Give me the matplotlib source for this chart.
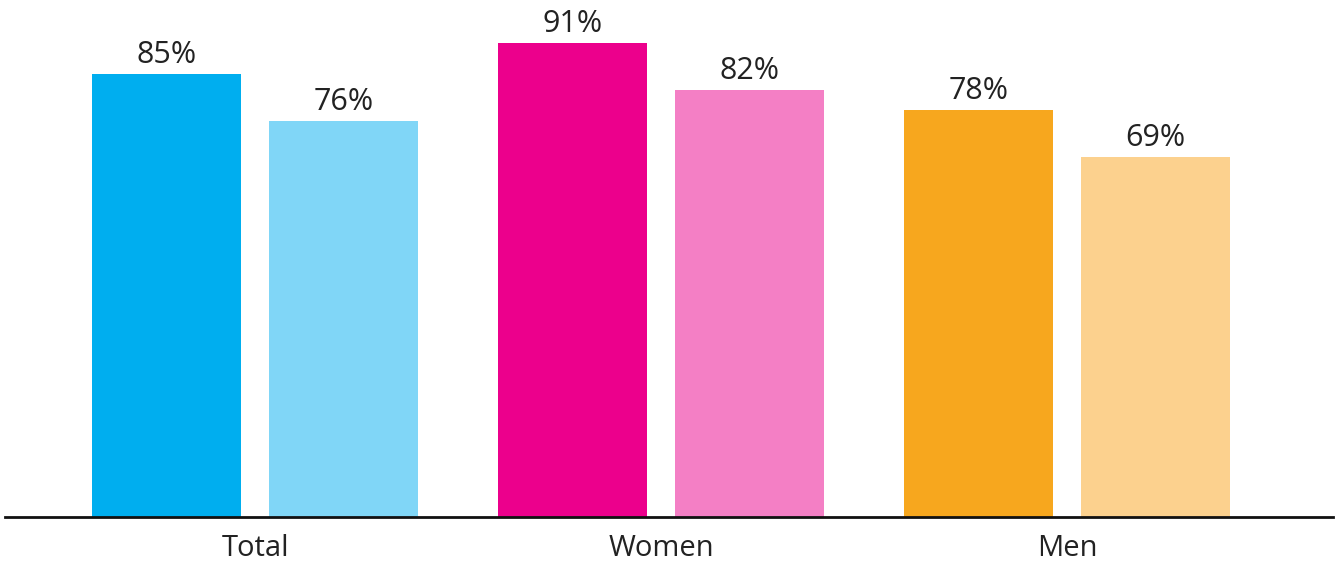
import numpy as np
import matplotlib
matplotlib.use("Agg")
import matplotlib.pyplot as plt

plt.rcParams['font.family'] = ['Open Sans', 'DejaVu Sans']

# data
groups = ["Total", "Women", "Men"]
first_vals = [85, 91, 78]
second_vals = [76, 82, 69]
first_colors = ["#00AEEF", "#EC008C", "#F7A71E"]
second_colors = ["#80D6F7", "#F47FC5", "#FCD18E"]

text_col = "#222222"

fig = plt.figure(figsize=(13.38, 5.64), dpi=100)
ax = fig.add_axes([5 / 1338, 47 / 564, 1328 / 1338, 517 / 564])

x = np.arange(len(groups))
w = 0.367
off = 0.218

b1 = ax.bar(x - off, first_vals, width=w, color=first_colors)
b2 = ax.bar(x + off, second_vals, width=w, color=second_colors)

for bars, vals in [(b1, first_vals), (b2, second_vals)]:
    for rect, v in zip(bars, vals):
        ax.annotate(f"{v}%", (rect.get_x() + rect.get_width() / 2, v),
                    xytext=(0, 8), textcoords="offset points",
                    ha="center", va="baseline", fontsize=22, color=text_col)

ax.set_xlim(-0.616, 2.655)
ax.set_ylim(0, 99.2)

ax.set_xticks(x)
ax.set_xticklabels(groups, fontsize=21, color=text_col)
ax.tick_params(axis="x", length=0, pad=12)
ax.set_yticks([])

for s in ["top", "right", "left"]:
    ax.spines[s].set_visible(False)
ax.spines["bottom"].set_linewidth(2)
ax.spines["bottom"].set_color("#111111")

fig.savefig("out.png", dpi=100)
